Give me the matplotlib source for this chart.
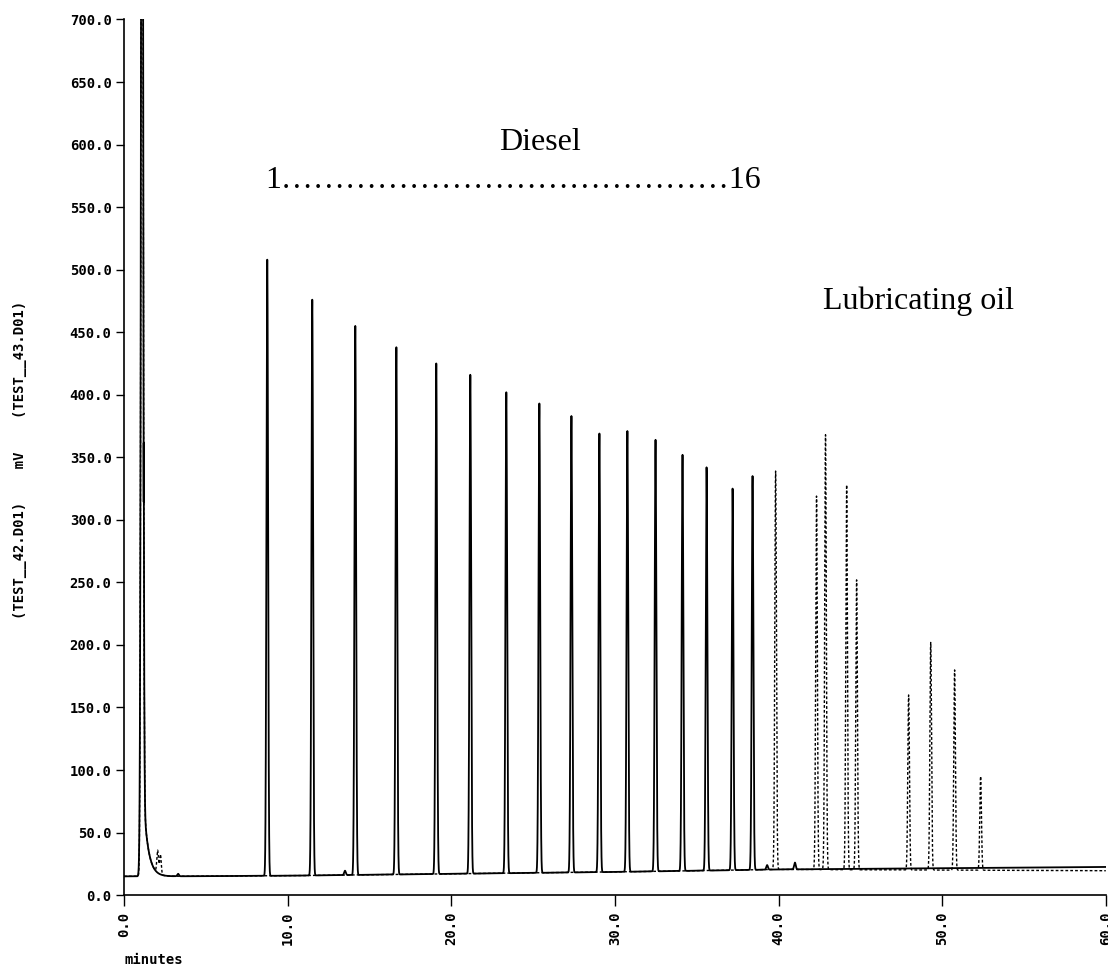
import numpy as np
import matplotlib.pyplot as plt

# retention times (min) and peak tops (mV)
diesel_t = [8.75, 11.50, 14.13, 16.64, 19.08, 21.16, 23.36, 25.38,
            27.34, 29.05, 30.76, 32.48, 34.13, 35.60, 37.19, 38.41]
diesel_h = [508, 476, 455, 438, 425, 416, 402, 393,
            383, 369, 371, 364, 352, 342, 325, 335]

lube_t = [39.82, 42.32, 42.87, 44.16, 44.77, 47.95, 49.30, 50.76, 52.35]
lube_h = [339, 319, 368, 328, 252, 160, 202, 180, 95]

# small bumps on the solid trace
minor_t = [0.98, 3.3, 13.5, 39.3, 41.0]
minor_h = [35, 17, 19.5, 24, 26]

# small bumps on the dashed trace
dash_minor_t = [2.05, 2.22]
dash_minor_h = [33, 31]

# solvent peak
solvent_t = 1.1
solvent_h = 1200

# baselines
base_t = [0, 1.0, 2.5, 10, 20, 30, 40, 50, 60]
solid_base = [15, 15, 15, 15.5, 17, 18.5, 20.5, 21.5, 22.5]
dashed_base = [15, 15, 15, 15.5, 17, 18.5, 20.5, 20.0, 19.5]

t = np.linspace(0, 60, 40001)


def trace(base, pk_t, pk_h, sigma=0.05):
    y = np.interp(t, base_t, base)
    for c, h in zip(pk_t, pk_h):
        amp = h - np.interp(c, base_t, base)
        y = y + amp * np.exp(-0.5 * ((t - c) / sigma) ** 2)
    # solvent peak with tail
    y = y + solvent_h * np.exp(-0.5 * ((t - solvent_t) / 0.06) ** 2)
    tail = np.where(t > solvent_t + 0.1, 60 * np.exp(-(t - solvent_t - 0.1) / 0.28), 0)
    y = y + tail
    return y


solid = trace(solid_base, diesel_t + minor_t, diesel_h + minor_h)
dashed = trace(dashed_base, lube_t + dash_minor_t, lube_h + dash_minor_h)

fig = plt.figure(figsize=(11.08, 9.74), dpi=100)
ax = fig.add_axes([0.112, 0.081, 0.886, 0.899])

ax.plot(t, dashed, color='k', lw=1.0, linestyle=(0, (2, 1.5)))
ax.plot(t, solid, color='k', lw=1.3)

ax.set_xlim(0, 60)
ax.set_ylim(0, 700)
ax.spines['top'].set_visible(False)
ax.spines['right'].set_visible(False)
ax.spines['left'].set_linewidth(1.2)
ax.spines['bottom'].set_linewidth(1.2)

mono = {'family': 'DejaVu Sans Mono', 'weight': 'bold', 'size': 10}
yt = np.arange(0, 701, 50)
ax.set_yticks(yt)
ax.set_yticklabels(['%.1f' % v for v in yt], fontdict=mono)
xt = np.arange(0, 61, 10)
ax.set_xticks(xt)
ax.set_xticklabels(['%.1f' % v for v in xt], fontdict=mono, rotation=90)
ax.tick_params(axis='y', direction='out', length=6, width=1, pad=3)
ax.tick_params(axis='x', direction='out', length=8, width=1, pad=4)

fig.text(0.018, 0.528, '(TEST__42.D01)    mV    (TEST__43.D01)',
         rotation=90, ha='center', va='center', fontdict=mono)
fig.text(0.112, 0.007, 'minutes', ha='left', va='bottom', fontdict=mono)

serif = {'family': 'Liberation Serif', 'size': 23}
ax.text(25.4, 602, 'Diesel', ha='center', va='center', fontdict=serif)
ax.text(8.6, 571, '1' + '\u2026' * 14 + '16', ha='left', va='center', fontdict=serif)
ax.text(42.7, 475, 'Lubricating oil', ha='left', va='center', fontdict=serif)

fig.savefig('out.png', dpi=100)
